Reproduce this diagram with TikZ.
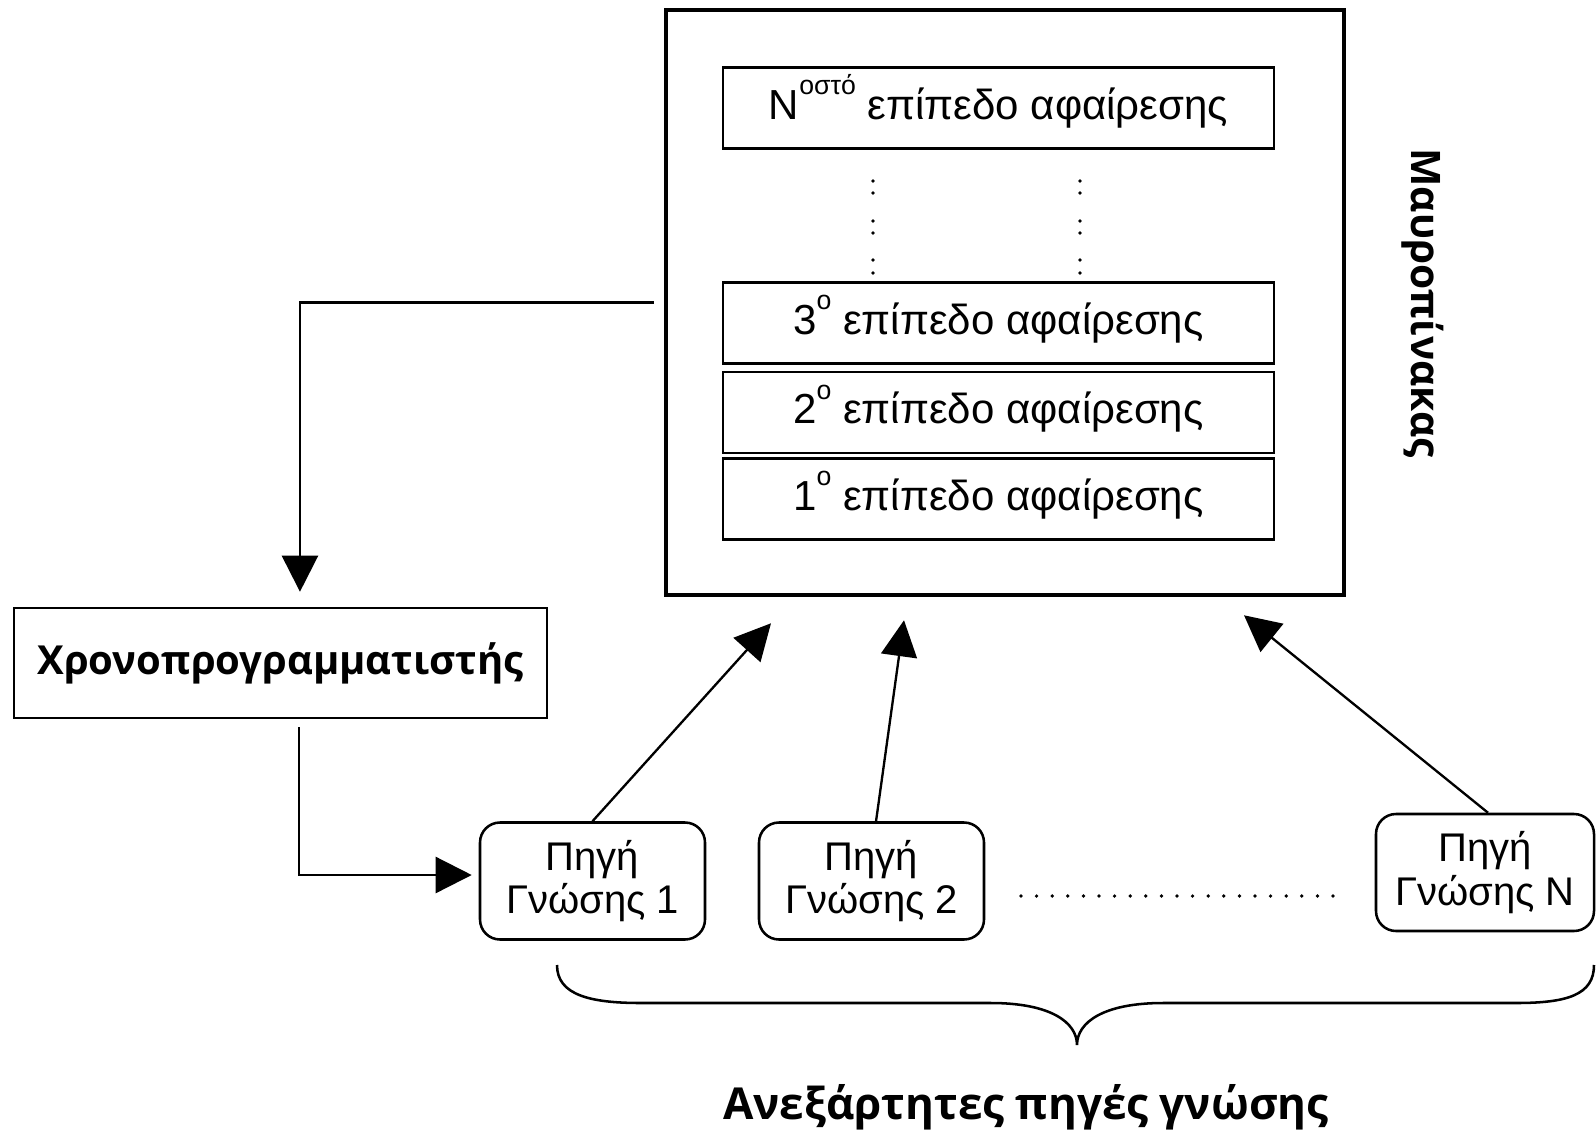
\documentclass[tikz,border=0pt]{standalone}
\usepackage{fontspec}
\setmainfont{Liberation Sans}
\newfontfamily\osans{Open Sans}
\usetikzlibrary{arrows.meta,calc}
\newcommand\supr[1]{\smash{\raisebox{18.5pt}{\fontsize{20}{20}\selectfont #1}}}
\begin{document}
\begin{tikzpicture}[x=0.75pt,y=-0.75pt,
 level/.style={draw, line width=1.9pt, minimum width=413pt, minimum height=60.75pt, inner sep=0pt, font=\fontsize{31.5}{36}\selectfont},
 src/.style={draw, line width=1.9pt, rounded corners=15pt, minimum height=87.75pt, inner sep=0pt, align=center, font=\fontsize{30}{32.5}\selectfont},
 arr/.style={line width=1.75pt, -{Triangle[length=27pt,width=27pt]}},
 dotm/.style={circle, fill, inner sep=0pt, minimum size=2.8pt},
 boldtxt/.style={font=\osans\bfseries\fontsize{#1}{#1}\selectfont}
]
\useasboundingbox (0,0) rectangle (1596,1136);
\node[draw, line width=3.4pt, minimum width=508.5pt, minimum height=438.75pt] (bb) at (1005,302.5) {};
\node[level] (lN) at (998.5,108) {N\supr{οστό} επίπεδο αφαίρεσης};
\node[level] (l3) at (998.5,323) {3\supr{ο} επίπεδο αφαίρεσης};
\node[level] (l2) at (998.5,412.5) {2\supr{ο} επίπεδο αφαίρεσης};
\node[level] (l1) at (998.5,499) {1\supr{ο} επίπεδο αφαίρεσης};
\foreach \x in {873,1080} \foreach \y in {181,193,221,233,260,273} \node[dotm] (d\x-\y) at (\x,\y) {};
\node[rotate=-90, boldtxt=30.5] (mt) at (1423,303) {Μαυροπίνακας};
\node[draw, line width=1.9pt, minimum width=399.75pt, minimum height=82.5pt, boldtxt=30] (sched) at (280.5,663) {Χρονοπρογραμματιστής};
\node[src, minimum width=168.75pt] (s1) at (592.5,881) {Πηγή\\Γνώσης 1};
\node[src, minimum width=168.75pt] (s2) at (871.5,881) {Πηγή\\Γνώσης 2};
\node[src, minimum width=163.5pt] (sN) at (1485,872.5) {Πηγή\\Γνώσης N};
\draw[arr, shorten <=7.5pt, shorten >=11.25pt] (bb.west) -| ([xshift=14.6pt]sched.north);
\draw[arr, shorten <=6pt, shorten >=5.25pt] ([xshift=13.9pt]sched.south) |- ([yshift=4.5pt]s1.west);
\draw[arr] (s1.north) -- ([xshift=-175.5pt, yshift=-19.5pt]bb.south);
\draw[arr] ([xshift=3.4pt]s2.north) -- ([xshift=-75.75pt, yshift=-17.25pt]bb.south);
\draw[arr] ([xshift=2.25pt]sN.north) -- ([xshift=179.25pt, yshift=-13.5pt]bb.south);
\foreach \i in {0,...,20} \node[dotm] (h\i) at (1021+\i*15.6,896) {};
\draw[line width=1.9pt] (557,965) .. controls (557,995) and (590,1003) .. (641,1003) -- (991,1003) .. controls (1050,1003) and (1077,1022) .. (1077,1045) .. controls (1077,1022) and (1104,1003) .. (1163,1003) -- (1516,1003) .. controls (1567,1003) and (1594,995) .. (1594,965);
\node[boldtxt=33] (lbl) at (1026,1107) {Ανεξάρτητες πηγές γνώσης};
\end{tikzpicture}
\end{document}
